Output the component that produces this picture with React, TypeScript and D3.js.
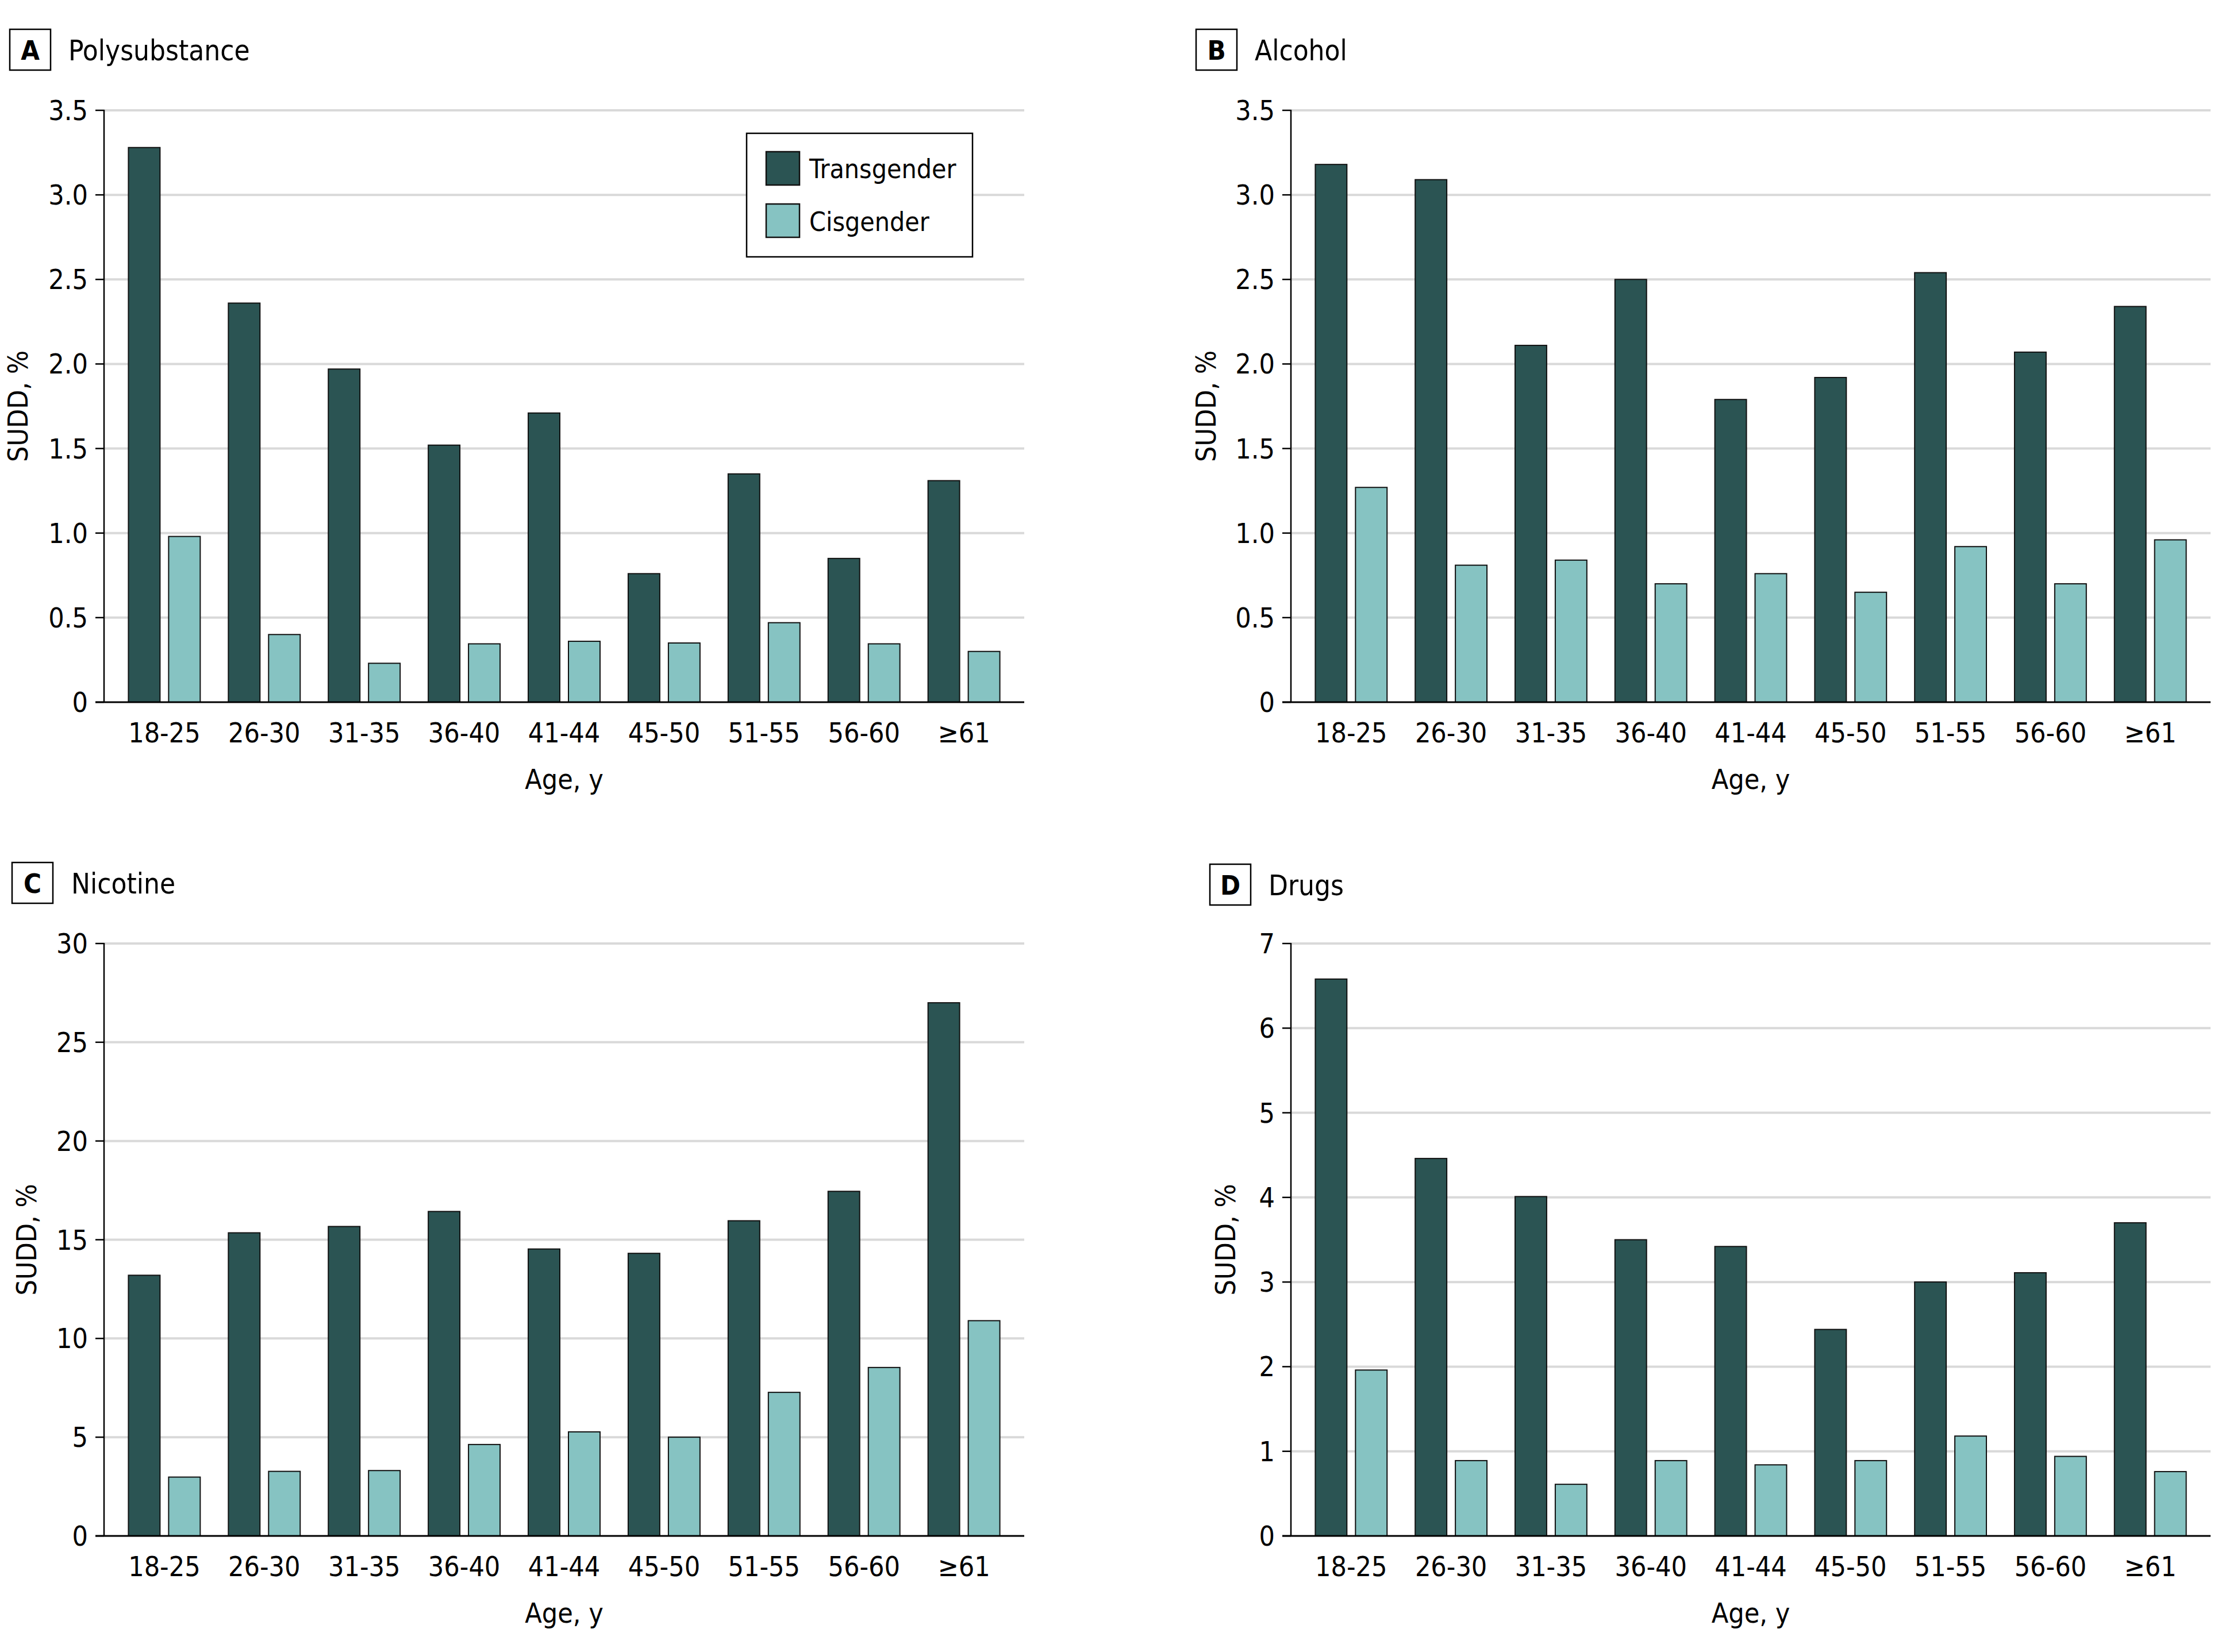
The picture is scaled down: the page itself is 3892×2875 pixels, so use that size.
import React from "react";
import * as d3 from "d3";

const ageGroups = ["18-25", "26-30", "31-35", "36-40", "41-44", "45-50", "51-55", "56-60", "≥61"];
const seriesNames = ["Transgender", "Cisgender"];

const polyTrans = [3.28, 2.36, 1.97, 1.52, 1.71, 0.76, 1.35, 0.85, 1.31];
const polyCis = [0.98, 0.4, 0.23, 0.345, 0.36, 0.35, 0.47, 0.345, 0.3];
const alcTrans = [3.18, 3.09, 2.11, 2.5, 1.79, 1.92, 2.54, 2.07, 2.34];
const alcCis = [1.27, 0.81, 0.84, 0.7, 0.76, 0.65, 0.92, 0.7, 0.96];
const nicTrans = [13.2, 15.35, 15.67, 16.43, 14.53, 14.31, 15.96, 17.45, 27.0];
const nicCis = [2.98, 3.27, 3.31, 4.63, 5.27, 5.0, 7.27, 8.53, 10.9];
const drugTrans = [6.58, 4.46, 4.01, 3.5, 3.42, 2.44, 3.0, 3.11, 3.7];
const drugCis = [1.96, 0.89, 0.61, 0.89, 0.84, 0.89, 1.18, 0.94, 0.76];

const ticksHalf = [0, 0.5, 1, 1.5, 2, 2.5, 3, 3.5];
const ticksNic = [0, 5, 10, 15, 20, 25, 30];
const ticksDrug = [0, 1, 2, 3, 4, 5, 6, 7];

const COLORS = ["#2b5453", "#86c3c2"];
const FONT = "'DejaVu Sans Condensed', 'DejaVu Sans', 'Liberation Sans Narrow', sans-serif";

const fmtHalf = (d: number) => (d === 0 ? "0" : d.toFixed(1));
const fmtInt = (d: number) => String(d);

const panels = [
  { letter: "A", title: "Polysubstance", trans: polyTrans, cis: polyCis, max: 3.5, ticks: ticksHalf, fmt: fmtHalf,
    x0: 181, x1: 1782, yTop: 192, yBot: 1222, boxX: 17, boxY: 51, titleX: 119, ylabX: 31, legend: true },
  { letter: "B", title: "Alcohol", trans: alcTrans, cis: alcCis, max: 3.5, ticks: ticksHalf, fmt: fmtHalf,
    x0: 2246, x1: 3846, yTop: 192, yBot: 1222, boxX: 2081, boxY: 51, titleX: 2183, ylabX: 2098, legend: false },
  { letter: "C", title: "Nicotine", trans: nicTrans, cis: nicCis, max: 30, ticks: ticksNic, fmt: fmtInt,
    x0: 181, x1: 1782, yTop: 1642, yBot: 2673, boxX: 21, boxY: 1501, titleX: 124, ylabX: 46, legend: false },
  { letter: "D", title: "Drugs", trans: drugTrans, cis: drugCis, max: 7, ticks: ticksDrug, fmt: fmtInt,
    x0: 2246, x1: 3846, yTop: 1642, yBot: 2673, boxX: 2105, boxY: 1504, titleX: 2207, ylabX: 2132, legend: false },
];

function Panel({ p }: { p: (typeof panels)[number] }) {
  const x = d3.scaleBand<string>().domain(ageGroups).range([p.x0, p.x1]).paddingInner(0.2816).paddingOuter(0.244);
  const xs = d3.scaleBand<string>().domain(seriesNames).range([0, x.bandwidth()]).paddingInner(0.2143).paddingOuter(0);
  const y = d3.scaleLinear().domain([0, p.max]).range([p.yBot, p.yTop]);
  const values = [p.trans, p.cis];
  const boxSize = 71;
  return (
    <g>
      {/* panel label box and title */}
      <rect x={p.boxX} y={p.boxY} width={boxSize} height={boxSize} fill="none" stroke="#000" strokeWidth={2.5} />
      <text x={p.boxX + boxSize / 2} y={p.boxY + boxSize / 2 + 17} textAnchor="middle" fontSize={47} fontWeight="bold" fontFamily={FONT}>
        {p.letter}
      </text>
      <text x={p.titleX} y={p.boxY + 54} fontSize={49} fontFamily={FONT}>
        {p.title}
      </text>
      {/* gridlines */}
      {p.ticks.filter((t) => t !== 0).map((t) => (
        <line key={"g" + t} x1={p.x0} x2={p.x1} y1={y(t)} y2={y(t)} stroke="#d9d9d9" strokeWidth={4} />
      ))}
      {/* bars */}
      {ageGroups.map((g, i) => (
        <g key={g}>
          {seriesNames.map((s, k) => (
            <rect
              key={s}
              x={(x(g) as number) + (xs(s) as number)}
              y={y(values[k][i])}
              width={xs.bandwidth()}
              height={y(0) - y(values[k][i])}
              fill={COLORS[k]}
              stroke="#111"
              strokeWidth={2}
            />
          ))}
        </g>
      ))}
      {/* y axis */}
      <line x1={p.x0} x2={p.x0} y1={p.yTop - 1} y2={p.yBot} stroke="#000" strokeWidth={2.5} />
      {p.ticks.map((t) => (
        <g key={"t" + t}>
          <line x1={p.x0 - 15} x2={p.x0} y1={y(t)} y2={y(t)} stroke="#000" strokeWidth={2.5} />
          <text x={p.x0 - 28} y={y(t) + 17} textAnchor="end" fontSize={48} fontFamily={FONT}>
            {p.fmt(t)}
          </text>
        </g>
      ))}
      {/* x axis */}
      <line x1={p.x0 - 15} x2={p.x1} y1={p.yBot} y2={p.yBot} stroke="#000" strokeWidth={3} />
      {ageGroups.map((g) => (
        <text key={"x" + g} x={(x(g) as number) + x.bandwidth() / 2} y={p.yBot + 70} textAnchor="middle" fontSize={48} fontFamily={FONT}>
          {g}
        </text>
      ))}
      <text x={(p.x0 + p.x1) / 2} y={p.yBot + 151} textAnchor="middle" fontSize={48} fontFamily={FONT}>
        Age, y
      </text>
      <text
        transform={`translate(${p.ylabX + 17},${(p.yTop + p.yBot) / 2}) rotate(-90)`}
        textAnchor="middle"
        fontSize={48}
        fontFamily={FONT}
      >
        SUDD, %
      </text>
      {p.legend && (
        <g>
          <rect x={1299} y={232} width={393} height={215} fill="#fff" stroke="#000" strokeWidth={2.5} />
          {seriesNames.map((s, k) => (
            <g key={"l" + s}>
              <rect x={1333} y={264 + k * 91} width={58} height={58} fill={COLORS[k]} stroke="#111" strokeWidth={2.5} />
              <text x={1408} y={310 + k * 92} fontSize={46} fontFamily={FONT}>
                {s}
              </text>
            </g>
          ))}
        </g>
      )}
    </g>
  );
}

export default function App() {
  return (
    <svg
      width={3892}
      height={2875}
      viewBox="0 0 3892 2875"
      style={{ position: "absolute", left: 0, top: 0, background: "#fff" }}
    >
      <rect x={0} y={0} width={3892} height={2875} fill="#fff" />
      {panels.map((p) => (
        <Panel key={p.letter} p={p} />
      ))}
    </svg>
  );
}
